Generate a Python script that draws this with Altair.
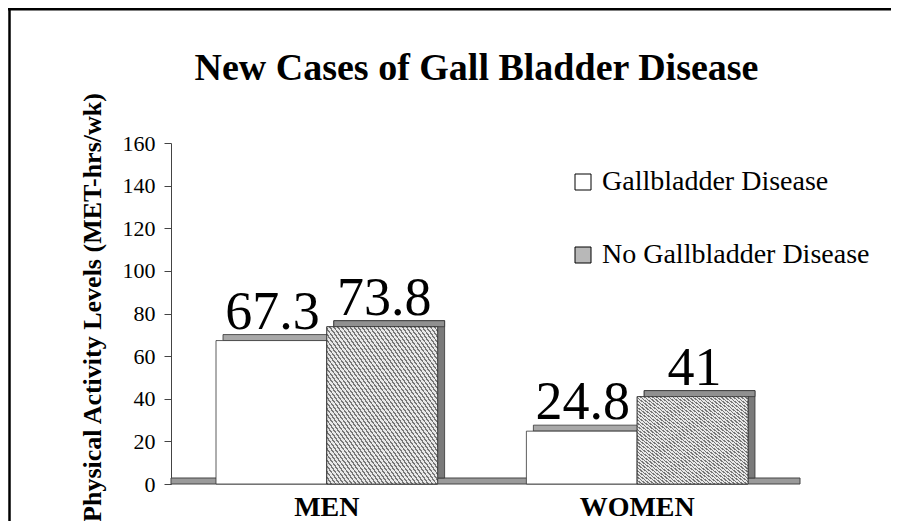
import altair as alt
import pandas as pd

# ---------------- data ----------------
categories = ["MEN", "WOMEN"]
series = ["Gallbladder Disease", "No Gallbladder Disease"]
gallbladder = [67.3, 24.8]
no_gallbladder = [73.8, 41]
y_ticks = [0, 20, 40, 60, 80, 100, 120, 140, 160]
title_text = "New Cases of Gall Bladder Disease"
y_title = "Physical Activity Levels (MET-hrs/wk)"

rows = []
for i, c in enumerate(categories):
    rows.append({"category": c, "group": series[0], "value": gallbladder[i],
                 "label": f"{gallbladder[i]:g}"})
    rows.append({"category": c, "group": series[1], "value": no_gallbladder[i],
                 "label": f"{no_gallbladder[i]:g}"})
df = pd.DataFrame(rows)

# ---------------- layout / style ----------------
W, H = 622, 341
FONT = "Liberation Serif"
DX, DY = 7, 6
EDGE = "#333333"
P_IN, P_OUT = 0.286, 0.145
STEP = W / (len(categories) - P_IN + 2 * P_OUT)
BAND = STEP * (1 - P_IN)
BW = BAND / 2          # width of one bar
HALF = BW / 2

# hatch-like striped gradient for the "No Gallbladder Disease" bars
N = 55
stops = []
for k in range(N):
    a, b, c = k / N, (k + 0.6) / N, (k + 1) / N
    stops += [{"offset": a, "color": "#e8e8e8"}, {"offset": b, "color": "#e8e8e8"},
              {"offset": b, "color": "#777777"}, {"offset": c, "color": "#777777"}]
hatch = {"gradient": "linear", "x1": 1, "y1": 0, "x2": 0, "y2": 1, "stops": stops}

x_enc = alt.X("category:N", sort=categories,
              scale=alt.Scale(domain=categories, paddingInner=P_IN, paddingOuter=P_OUT),
              axis=alt.Axis(title=None, domain=False, ticks=False, tickSize=0,
                            labelFont=FONT, labelFontSize=28, labelFontWeight="bold",
                            labelColor="black", labelPadding=31, labelBaseline="alphabetic",
                            labelAngle=0))
y_enc = alt.Y("value:Q", scale=alt.Scale(domain=[0, 160], nice=False),
              axis=alt.Axis(values=y_ticks, tickSize=7, labelPadding=9, labelFont=FONT,
                            labelFontSize=22, labelColor="black", domainColor="#444444",
                            tickColor="#444444", grid=False, title=y_title, titleFont=FONT,
                            titleFontSize=26, titleFontWeight="bold", titleColor="black",
                            titleX=-71, titleY=164, titleAngle=270, titleAlign="center",
                            titleBaseline="alphabetic"))
color_enc = alt.Color("group:N", sort=series,
                      scale=alt.Scale(domain=series, range=["white", "#b8b8b8"]),
                      legend=alt.Legend(title=None, orient="none", legendX=398, legendY=25,
                                        direction="vertical", symbolType="square",
                                        symbolSize=256, symbolStrokeColor="black",
                                        symbolStrokeWidth=1, labelFont=FONT, labelFontSize=28,
                                        labelColor="black", labelOffset=5, rowPadding=45,
                                        padding=0, labelLimit=0))

base = alt.Chart(df)
one = pd.DataFrame({"t": [title_text]})

frame_top = alt.Chart(one).mark_rule(color="black", strokeWidth=2.5).encode(
    x=alt.value(-163), x2=alt.value(W + 100), y=alt.value(-133.7))
frame_left = alt.Chart(one).mark_rule(color="black", strokeWidth=2.5).encode(
    x=alt.value(-161.5), y=alt.value(-135), y2=alt.value(H + 40))

title = alt.Chart(one).mark_text(font=FONT, fontSize=38, fontWeight="bold", align="center",
                                 baseline="alphabetic", color="black").encode(
    text="t:N", x=alt.value(305.5), y=alt.value(-63))

floor = alt.Chart(one).mark_rect(fill="#9a9a9a", stroke="#444444", strokeWidth=1).encode(
    x=alt.value(0), x2=alt.value(W + 7), y=alt.value(H - DY), y2=alt.value(H))

is_h = alt.datum.group == series[1]
is_w = alt.datum.group == series[0]

# 3-D extrusion: shifted back copy (side face) and top faces
back_h = base.transform_filter(is_h).mark_bar(
    fill="#7a7a7a", stroke=EDGE, strokeWidth=0.8, width=BW,
    xOffset=HALF + DX, yOffset=-DY, y2Offset=-DY
).encode(x=x_enc, y=y_enc)

top_w = base.transform_filter(is_w).mark_bar(
    fill="#a8a8a8", stroke=EDGE, strokeWidth=0.8, width=BW,
    xOffset=-HALF + DX, yOffset=-DY, y2Offset=0
).encode(x=x_enc, y=y_enc, y2=alt.Y2("value"))

top_h = base.transform_filter(is_h).mark_bar(
    fill="#909090", stroke=EDGE, strokeWidth=0.8, width=BW,
    xOffset=HALF + DX, yOffset=-DY, y2Offset=0
).encode(x=x_enc, y=y_enc, y2=alt.Y2("value"))

# front faces
front_w = base.transform_filter(is_w).mark_bar(
    stroke=EDGE, strokeWidth=0.8, width=BW, xOffset=-HALF
).encode(x=x_enc, y=y_enc, color=color_enc)

front_h = base.transform_filter(is_h).mark_bar(
    stroke=EDGE, strokeWidth=0.8, width=BW, xOffset=HALF
).encode(x=x_enc, y=y_enc, color=color_enc)

hatch_h = base.transform_filter(is_h).mark_bar(
    fill=hatch, stroke=EDGE, strokeWidth=0.8, width=BW, xOffset=HALF
).encode(x=x_enc, y=y_enc)

labels_w = base.transform_filter(is_w).mark_text(
    font=FONT, fontSize=54, baseline="alphabetic", align="center",
    dy=-12, dx=-HALF + 1, color="black"
).encode(x=x_enc, y=y_enc, text="label:N")

labels_h = base.transform_filter(is_h).mark_text(
    font=FONT, fontSize=54, baseline="alphabetic", align="center",
    dy=-12, dx=HALF + 2, color="black"
).encode(x=x_enc, y=y_enc, text="label:N")

chart = alt.layer(
    frame_top, frame_left, title, floor, back_h, top_w, top_h,
    front_w, front_h, hatch_h, labels_w, labels_h
).properties(
    width=W, height=H,
    autosize=alt.AutoSizeParams(type="none"),
    padding={"left": 163, "top": 135, "right": 98, "bottom": 37},
    background="white",
).configure_view(stroke=None)

chart.save("out.html", embed_options={"renderer": "svg", "actions": False})
